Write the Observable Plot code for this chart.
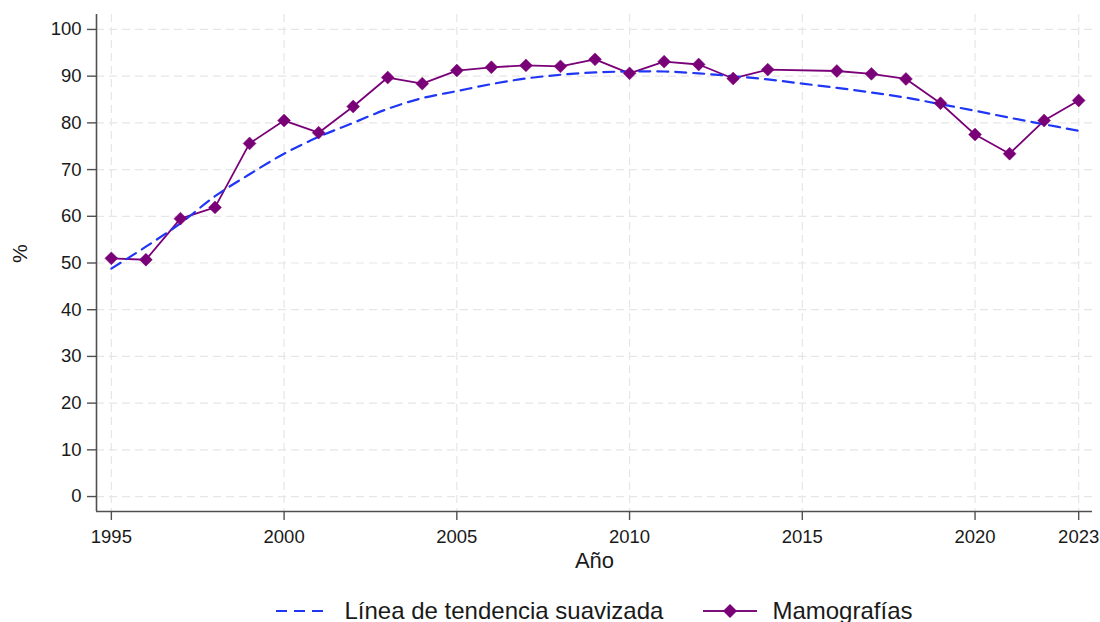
<!DOCTYPE html>
<html>
<head>
<meta charset="utf-8">
<script src="https://cdn.jsdelivr.net/npm/d3@7"></script>
<script src="https://cdn.jsdelivr.net/npm/@observablehq/plot@0.6"></script>
<style>
  html, body { margin: 0; padding: 0; background: #fff; }
  body { width: 1100px; height: 622px; overflow: hidden; font-family: "Liberation Sans", Arial, sans-serif; }
  #chart svg { display: block; }
  #legend { position: absolute; top: 596px; left: 96px; width: 996px; height: 30px; display: flex; justify-content: center; align-items: center; gap: 40px; font-size: 24px; color: #1a1a1a; white-space: nowrap; }
  .item { display: flex; align-items: center; gap: 15px; }
</style>
</head>
<body>
<div id="chart"></div>
<div id="legend">
  <div class="item">
    <svg width="54" height="14"><line x1="0" y1="7" x2="54" y2="7" stroke="#2036f5" stroke-width="2.2" stroke-dasharray="11,7"></line></svg>
    <span>Línea de tendencia suavizada</span>
  </div>
  <div class="item">
    <svg width="54" height="16"><line x1="0" y1="8" x2="54" y2="8" stroke="#7d0f7d" stroke-width="2"></line><path d="M27,1 L34,8 L27,15 L20,8 Z" fill="#7a0078"></path></svg>
    <span>Mamografías</span>
  </div>
</div>
<script>
// Data
const years = [1995,1996,1997,1998,1999,2000,2001,2002,2003,2004,2005,2006,2007,2008,2009,2010,2011,2012,2013,2014,2016,2017,2018,2019,2020,2021,2022,2023];
const mamografias = [51.0,50.7,59.5,61.9,75.6,80.5,77.9,83.5,89.7,88.4,91.2,91.9,92.3,92.1,93.6,90.6,93.1,92.5,89.5,91.4,91.1,90.5,89.4,84.2,77.5,73.4,80.5,84.8];

const trendYears = [1995,1996,1997,1998,1999,2000,2001,2002,2003,2004,2005,2006,2007,2008,2009,2010,2011,2012,2013,2014,2015,2016,2017,2018,2019,2020,2021,2022,2023];
const trendValues = [48.8,53.5,58.5,64.3,69.0,73.4,77.0,80.0,83.0,85.3,86.8,88.3,89.5,90.3,90.8,91.0,91.0,90.6,90.0,89.3,88.4,87.5,86.5,85.4,84.0,82.6,81.1,79.7,78.3];

const xTicks = [1995,2000,2005,2010,2015,2020,2023];
const yTicks = [0,10,20,30,40,50,60,70,80,90,100];
const xDomain = [1994.57, 2023.4];
const yDomain = [-3.2, 103.2];

const series = years.map((y, i) => ({year: y, value: mamografias[i]}));
const trend = trendYears.map((y, i) => ({year: y, value: trendValues[i]}));

const purple = "#7a0078";
const blue = "#2036f5";
const gridStyle = {stroke: "#e6e6e6", strokeOpacity: 1, strokeWidth: 1.2, strokeDasharray: "8,5"};

const chart = Plot.plot({
  width: 1100,
  height: 594,
  marginLeft: 96,
  marginRight: 8,
  marginTop: 14,
  marginBottom: 83,
  style: {fontFamily: "'Liberation Sans', Arial, sans-serif", fontSize: "18.5px", color: "#1a1a1a", background: "#fff"},
  x: {domain: xDomain},
  y: {domain: yDomain},
  marks: [
    Plot.gridY(yTicks, gridStyle),
    Plot.gridX(xTicks, gridStyle),
    Plot.ruleX([xDomain[0]], {stroke: "#505050", strokeWidth: 1.6}),
    Plot.ruleY([yDomain[0]], {stroke: "#505050", strokeWidth: 1.6}),
    Plot.axisY(yTicks, {tickSize: 9, tickPadding: 6, stroke: "#505050", strokeWidth: 1.4, fontSize: 18.5, fill: "#1a1a1a", label: null}),
    Plot.axisX(xTicks, {tickSize: 9, tickPadding: 9, stroke: "#505050", strokeWidth: 1.4, fontSize: 18.5, fill: "#1a1a1a", tickFormat: d => String(d), label: null}),
    Plot.text(["%"], {frameAnchor: "left", dx: -76, rotate: -90, fontSize: 21, fill: "#1a1a1a"}),
    Plot.text(["Año"], {frameAnchor: "bottom", dy: 56, fontSize: 22, fill: "#1a1a1a"}),
    Plot.line(series, {x: "year", y: "value", stroke: purple, strokeWidth: 1.8}),
    Plot.line(trend, {x: "year", y: "value", stroke: blue, strokeWidth: 2.2, strokeDasharray: "11,7", curve: "catmull-rom"}),
    Plot.dot(series, {x: "year", y: "value", symbol: "diamond2", r: 5.8, fill: purple, stroke: purple, strokeWidth: 0.5})
  ]
});
document.getElementById("chart").appendChild(chart);
</script>
</body>
</html>
